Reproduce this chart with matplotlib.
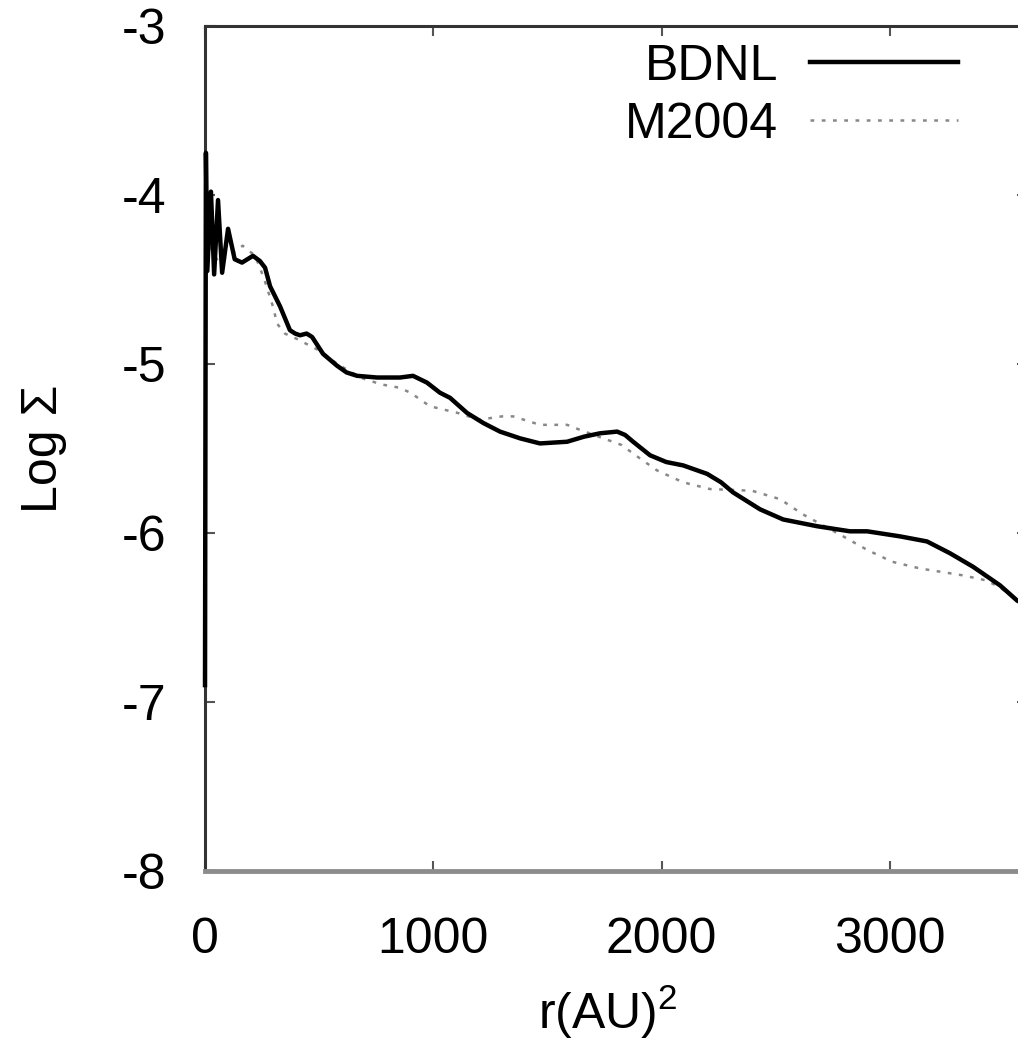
import matplotlib
matplotlib.use("Agg")
import matplotlib.pyplot as plt

plt.rcParams['font.family'] = ['Liberation Sans', 'DejaVu Sans']
plt.rcParams['mathtext.fontset'] = 'custom'
plt.rcParams['mathtext.rm'] = 'Liberation Sans'
plt.rcParams['mathtext.it'] = 'Liberation Sans'

# BDNL curve (r^2 in AU^2, log Sigma)
bdnl_x = [0, 4, 10, 26, 40, 57, 75, 101, 130, 162, 210, 240, 263, 285, 329, 372, 395, 416,
          445, 469, 517, 578, 620, 666, 753, 854, 911, 972, 1029, 1073, 1148, 1220, 1292,
          1380, 1467, 1586, 1660, 1730, 1805, 1840, 1875, 1949, 2020, 2094, 2199, 2260, 2313,
          2431, 2532, 2681, 2825, 2900, 3044, 3162, 3263, 3364, 3482, 3557, 3600]
bdnl_y = [-6.9, -3.75, -4.45, -3.98, -4.47, -4.03, -4.46, -4.20, -4.38, -4.40,
          -4.36, -4.39, -4.43, -4.54, -4.66, -4.80, -4.82, -4.83, -4.82, -4.84, -4.94, -5.01,
          -5.05, -5.07, -5.08, -5.08, -5.07, -5.11, -5.17, -5.20, -5.29, -5.35, -5.40,
          -5.44, -5.47, -5.46, -5.43, -5.41, -5.40, -5.42, -5.46, -5.54, -5.58, -5.60, -5.65,
          -5.70, -5.76, -5.86, -5.92, -5.96, -5.99, -5.99, -6.02, -6.05, -6.12, -6.20, -6.31,
          -6.40, -6.43]

# M2004 curve
m2004_x = [0, 60, 165, 220, 260, 300, 315, 350, 400, 500, 580, 680, 770, 850,
           900, 985, 1108, 1200, 1300, 1350, 1467, 1586, 1643, 1765, 1826, 1875,
           1980, 2094, 2212, 2396, 2519, 2619, 2795, 2900, 3009, 3132, 3316,
           3420, 3480, 3560, 3600]
m2004_y = [-4.25, -4.4, -4.30, -4.36, -4.50, -4.67, -4.76, -4.82, -4.85, -4.92,
           -5.00, -5.08, -5.12, -5.14, -5.17, -5.25, -5.29, -5.33, -5.31, -5.31,
           -5.36, -5.36, -5.39, -5.45, -5.48, -5.53, -5.63, -5.70, -5.74, -5.75,
           -5.80, -5.89, -6.02, -6.10, -6.17, -6.21, -6.25, -6.28, -6.32, -6.40,
           -6.43]

x_ticks = [0, 1000, 2000, 3000]
y_ticks = [-8, -7, -6, -5, -4, -3]

W, H = 1018, 1057
fig = plt.figure(figsize=(W / 100, H / 100), dpi=100)
left, right, top, bottom = 205, 1027, 26, 871
ax = fig.add_axes([left / W, (H - bottom) / H, (right - left) / W, (bottom - top) / H])

ax.plot(bdnl_x, bdnl_y, color='black', lw=3.2, label='BDNL', zorder=3,
        solid_joinstyle='round', clip_on=False)
ax.plot(m2004_x, m2004_y, color='#888888', lw=1.8, linestyle=(0, (1.5, 3.0)),
        label='M2004', zorder=2)

ax.set_xlim(0, 3600)
ax.set_ylim(-8, -3)
ax.set_xticks(x_ticks)
ax.set_yticks(y_ticks)
ax.set_xticklabels([str(v) for v in x_ticks])
ax.set_yticklabels([str(v) for v in y_ticks])

ax.tick_params(axis='both', direction='in', length=7, width=1.5, color='#555555',
               labelsize=36, top=True, right=True)
ax.tick_params(axis='x', pad=33)
ax.tick_params(axis='y', pad=28)

for s in ['left', 'top', 'right']:
    ax.spines[s].set_color('#333333')
    ax.spines[s].set_linewidth(2.2)
ax.spines['bottom'].set_color('#8c8c8c')
ax.spines['bottom'].set_linewidth(3.5)

ax.set_xlabel('r(AU)$^2$', fontsize=36)
ax.xaxis.set_label_coords(0.49, -0.132)
ax.set_ylabel('Log Σ', fontsize=36)
ax.yaxis.set_label_coords(-0.168, 0.5)

leg = ax.legend(loc='upper right', bbox_to_anchor=((958 - left) / (right - left), 0.979),
                frameon=False, markerfirst=False, fontsize=36, handlelength=2.96,
                handletextpad=0.64, borderpad=0, borderaxespad=0, labelspacing=0.24)

fig.savefig('out.png', dpi=100)
